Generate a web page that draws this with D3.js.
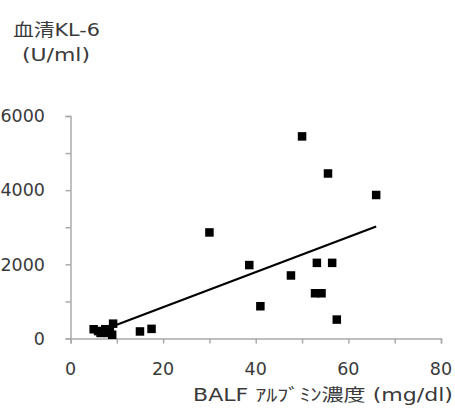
<!DOCTYPE html>
<html><head><meta charset="utf-8">
<script src="https://cdn.jsdelivr.net/npm/d3@7"></script>
<style>body{margin:0;background:#fff}svg{display:block}text{font-family:"DejaVu Sans","Noto Sans CJK JP",sans-serif;fill:#3a3a3a}</style>
</head><body>
<script>
const albumin = [5, 6, 6.5, 7, 7.5, 8, 8.5, 9, 9.2, 15, 17.5, 30, 38.6, 41, 47.6, 50, 52.8, 53.2, 54.2, 55.6, 56.5, 57.5, 66];
const kl6 = [250, 200, 150, 200, 250, 150, 200, 100, 400, 190, 260, 2860, 1980, 870, 1700, 5450, 1220, 2040, 1220, 4450, 2040, 510, 3870];
const xTicks = [0, 20, 40, 60, 80];
const yTicks = [0, 2000, 4000, 6000];
const fitLine = [[5, 137], [66, 3022]];
const yTitle = ["血清KL-6", "(U/ml)"];
const xTitle = "BALF ｱﾙﾌﾞﾐﾝ濃度 (mg/dl)";

const W = 455, H = 412;
const svg = d3.select("body").append("svg").attr("width", W).attr("height", H);
const x = d3.scaleLinear().domain([0, 80]).range([70.5, 441]);
const y = d3.scaleLinear().domain([0, 6000]).range([338.5, 116]);

const axisColor = "#aaa";
// y axis
const ya = svg.append("g").attr("transform", `translate(${x(0)},0)`)
  .call(d3.axisLeft(y).tickValues(d3.range(0, 6001, 1000)).tickSize(5).tickFormat(""));
ya.select(".domain").attr("stroke", axisColor).attr("stroke-width", 1.5);
ya.selectAll(".tick line").attr("stroke", axisColor).attr("stroke-width", 1.5);
svg.append("g").selectAll("text").data(yTicks).join("text")
  .attr("x", 45).attr("y", d => y(d)).attr("dy", "0.36em").attr("text-anchor", "end")
  .attr("font-size", 17.5).text(d => d);
// x axis
const xa = svg.append("g").attr("transform", `translate(0,${y(0)})`)
  .call(d3.axisBottom(x).tickValues(d3.range(0, 81, 10)).tickSize(5).tickFormat(""));
xa.select(".domain").attr("stroke", axisColor).attr("stroke-width", 1.5);
xa.selectAll(".tick line").attr("stroke", axisColor).attr("stroke-width", 1.5);
svg.append("g").selectAll("text").data(xTicks).join("text")
  .attr("x", d => x(d)).attr("y", 375).attr("text-anchor", "middle")
  .attr("font-size", 17.5).text(d => d);

// fit line
svg.append("path").datum(fitLine)
  .attr("d", d3.line().x(d => x(d[0])).y(d => y(d[1])))
  .attr("stroke", "#000").attr("stroke-width", 2.2).attr("fill", "none");

// points
const s = 8.5;
svg.append("g").selectAll("rect").data(albumin.map((a, i) => [a, kl6[i]])).join("rect")
  .attr("x", d => x(d[0]) - s / 2).attr("y", d => y(d[1]) - s / 2)
  .attr("width", s).attr("height", s).attr("fill", "#000");

// titles
svg.append("text").attr("x", 13).attr("y", 36).attr("font-size", 17.5)
  .attr("textLength", 87).attr("lengthAdjust", "spacingAndGlyphs").text(yTitle[0]);
svg.append("text").attr("x", 22).attr("y", 61).attr("font-size", 17.5)
  .attr("textLength", 68).attr("lengthAdjust", "spacingAndGlyphs").text(yTitle[1]);
svg.append("text").attr("x", 193).attr("y", 401).attr("font-size", 17.5)
  .attr("textLength", 260).attr("lengthAdjust", "spacingAndGlyphs").text(xTitle);
</script>
</body></html>
